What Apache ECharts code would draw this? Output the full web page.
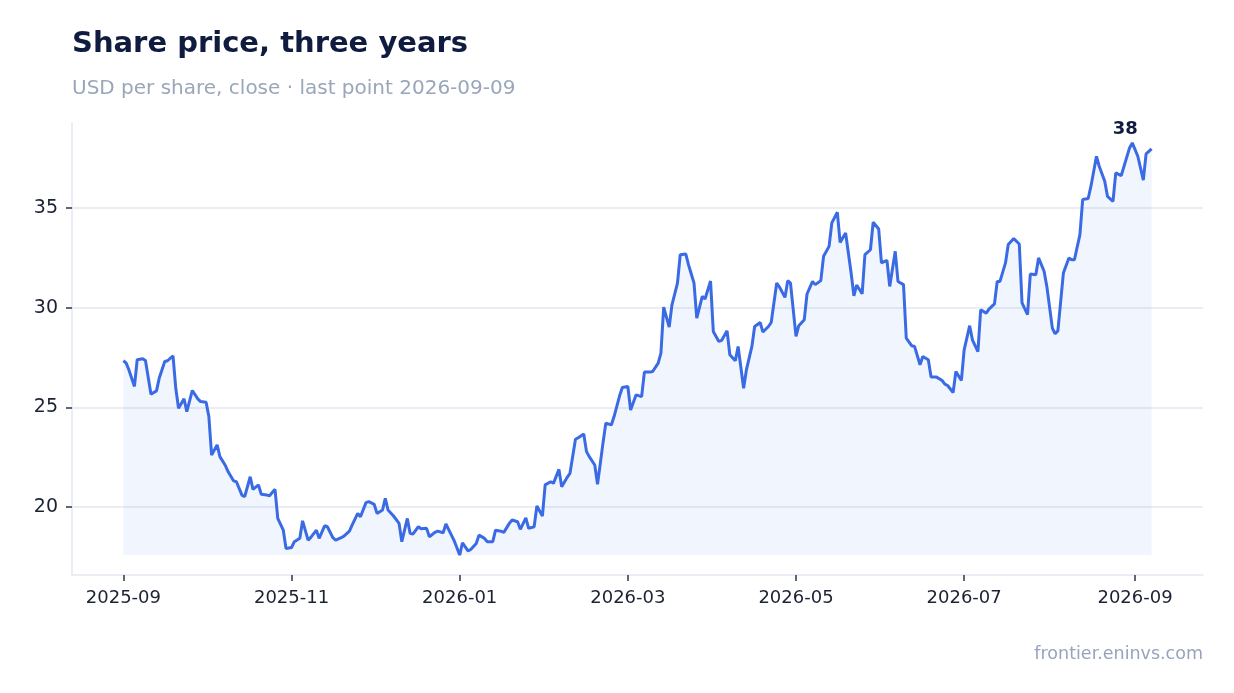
<!DOCTYPE html>
<html>
<head>
<meta charset="utf-8">
<title>Share price, three years</title>
<script src="https://cdn.jsdelivr.net/npm/echarts@6/dist/echarts.min.js"></script>
<style>
  html, body { margin: 0; padding: 0; background: #ffffff; }
  #chart { width: 1234px; height: 693px; }
</style>
</head>
<body>
<div id="chart"></div>
<script>
// closing prices
const dates = [
  "2025-09-01", "2025-09-02", "2025-09-03", "2025-09-05", "2025-09-06", "2025-09-08", "2025-09-09", "2025-09-11",
  "2025-09-13", "2025-09-14", "2025-09-16", "2025-09-17", "2025-09-19", "2025-09-20", "2025-09-21", "2025-09-23",
  "2025-09-24", "2025-09-26", "2025-09-28", "2025-09-29", "2025-10-01", "2025-10-02", "2025-10-03", "2025-10-05",
  "2025-10-06", "2025-10-08", "2025-10-09", "2025-10-11", "2025-10-12", "2025-10-14", "2025-10-15", "2025-10-17",
  "2025-10-18", "2025-10-20", "2025-10-21", "2025-10-23", "2025-10-24", "2025-10-26", "2025-10-27", "2025-10-29",
  "2025-10-30", "2025-11-01", "2025-11-02", "2025-11-04", "2025-11-05", "2025-11-07", "2025-11-08", "2025-11-10",
  "2025-11-11", "2025-11-13", "2025-11-14", "2025-11-16", "2025-11-17", "2025-11-19", "2025-11-20", "2025-11-22",
  "2025-11-23", "2025-11-25", "2025-11-26", "2025-11-28", "2025-11-29", "2025-12-01", "2025-12-02", "2025-12-04",
  "2025-12-05", "2025-12-06", "2025-12-08", "2025-12-10", "2025-12-11", "2025-12-13", "2025-12-14", "2025-12-15",
  "2025-12-17", "2025-12-18", "2025-12-20", "2025-12-21", "2025-12-23", "2025-12-24", "2025-12-26", "2025-12-27",
  "2025-12-29", "2025-12-30", "2026-01-01", "2026-01-02", "2026-01-04", "2026-01-05", "2026-01-07", "2026-01-08",
  "2026-01-10", "2026-01-11", "2026-01-13", "2026-01-14", "2026-01-16", "2026-01-17", "2026-01-19", "2026-01-20",
  "2026-01-22", "2026-01-23", "2026-01-25", "2026-01-26", "2026-01-28", "2026-01-29", "2026-01-31", "2026-02-01",
  "2026-02-03", "2026-02-04", "2026-02-06", "2026-02-07", "2026-02-09", "2026-02-10", "2026-02-12", "2026-02-13",
  "2026-02-15", "2026-02-16", "2026-02-17", "2026-02-19", "2026-02-20", "2026-02-22", "2026-02-23", "2026-02-25",
  "2026-02-26", "2026-02-28", "2026-03-01", "2026-03-03", "2026-03-04", "2026-03-06", "2026-03-08", "2026-03-09",
  "2026-03-11", "2026-03-12", "2026-03-14", "2026-03-15", "2026-03-16", "2026-03-18", "2026-03-19", "2026-03-21",
  "2026-03-22", "2026-03-24", "2026-03-25", "2026-03-27", "2026-03-28", "2026-03-30", "2026-03-31", "2026-04-02",
  "2026-04-03", "2026-04-05", "2026-04-06", "2026-04-08", "2026-04-09", "2026-04-11", "2026-04-12", "2026-04-14",
  "2026-04-15", "2026-04-17", "2026-04-18", "2026-04-20", "2026-04-21", "2026-04-23", "2026-04-24", "2026-04-26",
  "2026-04-27", "2026-04-29", "2026-04-30", "2026-05-01", "2026-05-03", "2026-05-04", "2026-05-06", "2026-05-07",
  "2026-05-09", "2026-05-10", "2026-05-12", "2026-05-13", "2026-05-15", "2026-05-16", "2026-05-18", "2026-05-19",
  "2026-05-21", "2026-05-23", "2026-05-24", "2026-05-25", "2026-05-27", "2026-05-28", "2026-05-30", "2026-05-31",
  "2026-06-02", "2026-06-03", "2026-06-05", "2026-06-06", "2026-06-08", "2026-06-09", "2026-06-11", "2026-06-12",
  "2026-06-14", "2026-06-15", "2026-06-17", "2026-06-18", "2026-06-20", "2026-06-21", "2026-06-23", "2026-06-25",
  "2026-06-26", "2026-06-27", "2026-06-29", "2026-06-30", "2026-07-02", "2026-07-03", "2026-07-05", "2026-07-06",
  "2026-07-08", "2026-07-09", "2026-07-11", "2026-07-12", "2026-07-14", "2026-07-15", "2026-07-16", "2026-07-18",
  "2026-07-19", "2026-07-21", "2026-07-23", "2026-07-24", "2026-07-26", "2026-07-27", "2026-07-29", "2026-07-30",
  "2026-08-01", "2026-08-02", "2026-08-04", "2026-08-05", "2026-08-06", "2026-08-08", "2026-08-10", "2026-08-11",
  "2026-08-12", "2026-08-14", "2026-08-15", "2026-08-17", "2026-08-18", "2026-08-20", "2026-08-21", "2026-08-23",
  "2026-08-24", "2026-08-26", "2026-08-27", "2026-08-29", "2026-08-30", "2026-09-01", "2026-09-02", "2026-09-04",
  "2026-09-06", "2026-09-07", "2026-09-09"
];

const prices = [
  27.35, 27.22, 26.88, 26.05, 27.39, 27.44, 27.35, 25.66,
  25.83, 26.47, 27.30, 27.34, 27.59, 25.96, 24.96, 25.43,
  24.79, 25.85, 25.43, 25.29, 25.26, 24.54, 22.61, 23.12,
  22.53, 22.08, 21.77, 21.31, 21.27, 20.60, 20.52, 21.52,
  20.89, 21.11, 20.64, 20.60, 20.57, 20.89, 19.43, 18.84,
  17.92, 17.97, 18.26, 18.43, 19.31, 18.34, 18.48, 18.84,
  18.43, 19.06, 19.01, 18.46, 18.34, 18.46, 18.54, 18.79,
  19.10, 19.68, 19.51, 20.22, 20.27, 20.13, 19.68, 19.85,
  20.44, 19.85, 19.55, 19.18, 18.26, 19.43, 18.68, 18.64,
  19.01, 18.91, 18.93, 18.51, 18.73, 18.79, 18.71, 19.15,
  18.59, 18.31, 17.59, 18.21, 17.80, 17.87, 18.17, 18.59,
  18.43, 18.26, 18.26, 18.84, 18.79, 18.73, 19.18, 19.35,
  19.26, 18.88, 19.46, 18.93, 19.01, 20.05, 19.55, 21.11,
  21.27, 21.19, 21.89, 21.02, 21.49, 21.69, 23.40, 23.48,
  23.67, 22.78, 22.53, 22.11, 21.14, 23.23, 24.21, 24.12,
  24.54, 25.58, 26.00, 26.05, 24.87, 25.63, 25.54, 26.77,
  26.77, 26.80, 27.22, 27.72, 30.03, 29.03, 30.15, 31.24,
  32.66, 32.70, 32.16, 31.24, 29.48, 30.57, 30.44, 31.34,
  28.81, 28.31, 28.36, 28.84, 27.64, 27.34, 28.06, 25.96,
  26.88, 28.06, 29.06, 29.26, 28.78, 29.06, 29.26, 31.24,
  31.04, 30.52, 31.36, 31.24, 28.56, 29.10, 29.40, 30.69,
  31.32, 31.16, 31.36, 32.58, 33.08, 34.26, 34.79, 33.28,
  33.75, 31.74, 30.60, 31.14, 30.70, 32.66, 32.91, 34.29,
  33.95, 32.25, 32.38, 31.07, 32.83, 31.32, 31.16, 28.48,
  28.09, 28.06, 27.14, 27.55, 27.39, 26.52, 26.52, 26.35,
  26.17, 26.10, 25.75, 26.80, 26.35, 27.89, 29.10, 28.39,
  27.80, 29.90, 29.73, 29.93, 30.19, 31.32, 31.32, 32.25,
  33.17, 33.47, 33.20, 30.24, 29.65, 31.69, 31.66, 32.50,
  31.83, 31.07, 28.98, 28.69, 28.84, 31.74, 32.50, 32.41,
  32.41, 33.67, 35.43, 35.48, 36.10, 37.60, 37.10, 36.35,
  35.59, 35.34, 36.77, 36.63, 37.10, 38.02, 38.27, 37.60,
  36.40, 37.72, 37.97
];

// ticks in the reference sit at an even ~61-day step from the first date
const xTicks = ["2025-09-01", "2025-11-01", "2026-01-01", "2026-03-03", "2026-05-03", "2026-07-03", "2026-09-03"];
const yTicks = [20, 25, 30, 35];

function toTime(s) {
  const p = s.split("-");
  return new Date(+p[0], +p[1] - 1, +p[2]).getTime();
}

function monthLabel(v) {
  const d = new Date(v);
  return d.getFullYear() + "-" + String(d.getMonth() + 1).padStart(2, "0");
}

const FONT = "DejaVu Sans";
const lowest = Math.min.apply(null, prices);
const xTickTimes = xTicks.map(toTime);

const chart = echarts.init(document.getElementById("chart"));

const option = {
  backgroundColor: "#ffffff",
  animation: false,
  title: {
    text: "Share price, three years",
    subtext: "USD per share, close · last point 2026-09-09",
    left: 72,
    top: 30,
    padding: 0,
    itemGap: 20,
    textStyle: { fontFamily: FONT, fontSize: 29, fontWeight: "bold", color: "#0f1c3f" },
    subtextStyle: { fontFamily: FONT, fontSize: 20, color: "#9aa6ba" }
  },
  grid: { left: 72, right: 31, top: 123, bottom: 118, containLabel: false },
  xAxis: {
    // time values on a plain value axis so the ticks can sit where the reference has them
    type: "value",
    scale: true,
    min: function (v) { return v.min - (v.max - v.min) * 0.05; },
    max: function (v) { return v.max + (v.max - v.min) * 0.05; },
    axisLine: { show: true, lineStyle: { color: "#e3e7f0", width: 1.5 } },
    axisTick: {
      show: true, length: 6, inside: false,
      customValues: xTickTimes,
      lineStyle: { color: "#2e3546", width: 1.5 }
    },
    axisLabel: {
      customValues: xTickTimes,
      formatter: monthLabel,
      margin: 14,
      fontFamily: FONT, fontSize: 18, color: "#1b2233"
    },
    splitLine: { show: false }
  },
  yAxis: {
    type: "value",
    min: function (v) { return v.min - 1; },
    max: function (v) { return v.max + 1; },
    axisLine: { show: true, lineStyle: { color: "#e3e7f0", width: 1.5 } },
    axisTick: {
      show: true, length: 6, inside: false,
      customValues: yTicks,
      lineStyle: { color: "#2e3546", width: 1.5 }
    },
    axisLabel: {
      customValues: yTicks,
      margin: 14,
      fontFamily: FONT, fontSize: 19, color: "#1b2233"
    },
    splitLine: { show: true, lineStyle: { color: "#e3e7f0", width: 1.5 } }
  },
  series: [
    {
      type: "line",
      data: dates.map(function (d, i) { return [toTime(d), prices[i]]; }),
      showSymbol: false,
      symbol: "none",
      lineStyle: { color: "#3a6be5", width: 3 },
      areaStyle: { color: "rgba(59,107,229,0.1)", origin: lowest },
      markPoint: {
        symbol: "circle",
        symbolSize: 0,
        data: [{ type: "max" }],
        label: {
          show: true,
          position: "inside",
          offset: [-7, -14],
          formatter: function (p) { return Math.round(p.value); },
          fontFamily: FONT, fontSize: 18, fontWeight: "bold", color: "#0f1c3f"
        }
      }
    }
  ],
  graphic: [
    {
      type: "text",
      right: 31,
      top: 645,
      style: { text: "frontier.eninvs.com", fontFamily: FONT, fontSize: 17.5, fill: "#97a4bb" }
    }
  ]
};

chart.setOption(option);
window.onresize = chart.resize;
</script>
</body>
</html>
